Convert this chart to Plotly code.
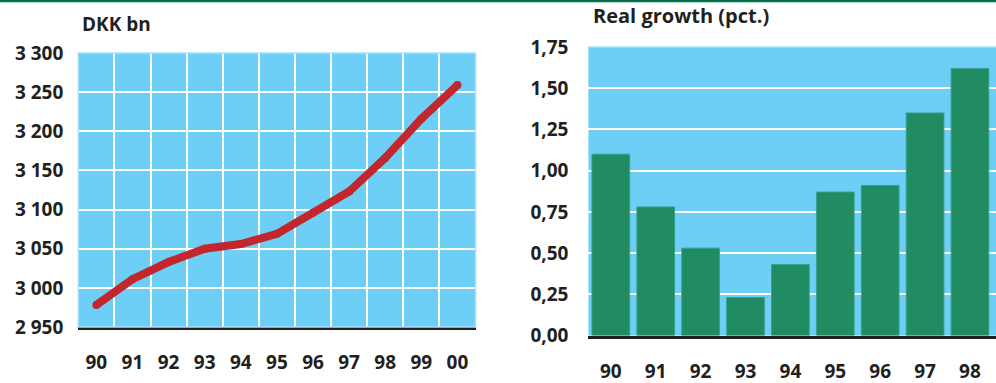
import plotly.graph_objects as go

# Left panel: level in DKK bn, 1990-2000
years_level = ["90", "91", "92", "93", "94", "95", "96", "97", "98", "99", "00"]
level_dkk_bn = [2978, 3011, 3033, 3050, 3056, 3069, 3096, 3123, 3166, 3216, 3259]

# Right panel: real growth in pct., 1990-1998
years_growth = ["90", "91", "92", "93", "94", "95", "96", "97", "98"]
real_growth_pct = [1.10, 0.78, 0.53, 0.23, 0.43, 0.87, 0.91, 1.35, 1.62]

W, H = 996, 383
SKY = "#6dcff6"
EDGE = "#a6e1f9"
INK = "#231f20"
RED = "#c1272d"
FONT = "Open Sans"


def px_x(v):
    return v / W


def px_y(v):
    return 1 - v / H


fig = go.Figure()

# thick red line; same-size markers give it rounded joins and ends
fig.add_trace(go.Scatter(
    x=list(range(len(years_level))), y=level_dkk_bn,
    mode="lines+markers",
    line=dict(color=RED, width=8),
    marker=dict(color=RED, size=8, line=dict(width=0)),
    xaxis="x", yaxis="y", showlegend=False, hoverinfo="skip",
))

fig.add_trace(go.Bar(
    x=list(range(len(years_growth))), y=real_growth_pct,
    marker=dict(color="#218b62", line=dict(color="#3a9f8c", width=1)),
    xaxis="x2", yaxis="y2", showlegend=False, hoverinfo="skip",
))

tick_font = dict(family=FONT, size=19, color=INK, weight="bold")

fig.update_layout(
    width=W, height=H,
    margin=dict(l=0, r=0, t=0, b=0, pad=0),
    paper_bgcolor="white",
    separators=", ",
    bargap=0.16,
    font=tick_font,
    xaxis=dict(
        domain=[px_x(78.3), px_x(475.5)],
        range=[-0.5, len(years_level) - 0.5],
        tickmode="array",
        tickvals=list(range(len(years_level))),
        ticktext=years_level,
        showgrid=False, zeroline=False,
        showline=True, linecolor=INK, linewidth=3,
        ticks="", ticklabelstandoff=16, automargin=False,
        minor=dict(
            tickmode="array",
            tickvals=[i + 0.5 for i in range(len(years_level) - 1)],
            showgrid=True, gridcolor="white", gridwidth=2, ticks="",
        ),
        fixedrange=True,
    ),
    yaxis=dict(
        domain=[px_y(327), px_y(53)],
        range=[2950, 3300], dtick=50, tick0=2950,
        tickformat=",d",
        showgrid=True, gridcolor="white", gridwidth=2,
        zeroline=False, showline=False,
        ticks="", ticklabelstandoff=14, automargin=False,
        anchor="x", fixedrange=True,
    ),
    xaxis2=dict(
        domain=[px_x(588.4), 1.0],
        range=[-0.5, len(years_growth) - 0.5 + 0.08],
        tickmode="array",
        tickvals=list(range(len(years_growth))),
        ticktext=years_growth,
        showgrid=False, zeroline=False,
        showline=True, linecolor=INK, linewidth=3,
        ticks="", ticklabelstandoff=17, automargin=False,
        anchor="y2", fixedrange=True,
    ),
    yaxis2=dict(
        domain=[px_y(335.5), px_y(47)],
        range=[0, 1.75], dtick=0.25, tick0=0,
        tickformat=".2f",
        showgrid=True, gridcolor="white", gridwidth=2,
        zeroline=False, showline=False,
        ticks="", ticklabelstandoff=19, automargin=False,
        anchor="x2", fixedrange=True,
    ),
    plot_bgcolor=SKY,
    shapes=[
        # green rule across the top of the page
        dict(type="line", xref="paper", yref="paper", x0=0, x1=1, y0=px_y(1), y1=px_y(1),
             line=dict(color="#00704a", width=2.5)),
        # pale rim around the left panel
        dict(type="rect", xref="x domain", yref="y domain", x0=0, x1=1, y0=0, y1=1,
             line=dict(color=EDGE, width=1.5), layer="above"),
        # pale top edge of the right panel
        dict(type="line", xref="x2 domain", yref="y2 domain", x0=0, x1=1, y0=1, y1=1,
             line=dict(color=EDGE, width=1.5), layer="below"),
    ],
    annotations=[
        dict(text="DKK bn", xref="paper", yref="paper", x=px_x(80), y=px_y(24),
             xanchor="left", yanchor="middle", showarrow=False,
             font=dict(family=FONT, size=19, color=INK, weight="bold")),
        dict(text="Real growth (pct.)", xref="paper", yref="paper", x=px_x(591), y=px_y(16),
             xanchor="left", yanchor="middle", showarrow=False,
             font=dict(family=FONT, size=20, color=INK, weight="bold")),
    ],
)

fig.write_html("out.html", config=dict(displayModeBar=False, staticPlot=True))
